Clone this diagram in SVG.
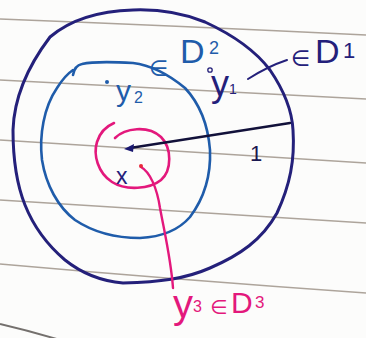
<svg xmlns="http://www.w3.org/2000/svg" width="366" height="338" viewBox="0 0 366 338">
<style>
.rule{fill:none;stroke:#8c7f72;stroke-width:1.5;stroke-opacity:0.7}
.ink{fill:none;stroke-linecap:round;stroke-linejoin:round}
.navy{stroke:#24207a}
.blue{stroke:#1f5caa}
.pink{stroke:#e3187c}
.t{font-family:"Liberation Sans","DejaVu Sans",sans-serif}
.tn{fill:#24207a}
.tb{fill:#1f5caa}
.tp{fill:#e3187c}
</style>
<rect width="366" height="338" fill="#fcfcfb"/>
<g id="paper-lines">
<path class="rule" d="M0,19 Q180,26 366,35"/>
<path class="rule" d="M0,80 Q180,90 366,99"/>
<path class="rule" d="M0,140 Q180,152 366,163"/>
<path class="rule" d="M0,200 Q180,212 366,223"/>
<path class="rule" d="M0,264 Q180,280 366,293"/>
<path class="rule" d="M0,324 Q30,331 60,340" style="stroke:#3a3530;stroke-width:2"/>
</g>
<g id="disc-D1">
<path class="ink navy" stroke-width="3" d="M50,37 C70,20 100,11 133,10 C160,9 185,14 205,22 C233,35 255,50 270,70 C285,92 292,110 293,130 C295,160 290,185 277,213 C262,240 240,255 210,268 C185,279 160,282 123,283 C100,281 80,272 65,260 C45,243 33,225 25,205 C15,180 13,155 13,130 C14,100 25,70 50,37"/>
<path class="ink navy" stroke-width="2.2" d="M50,37 L48,40"/>
</g>
<g id="disc-D2">
<path class="ink blue" stroke-width="2.6" d="M73,75 C74,69 77,65 82,64 C95,61 115,62 133,63 C150,65 168,74 185,88 C200,104 208,125 210,150 C211,175 205,197 190,217 C177,232 160,237 140,238 C115,238 93,232 75,220 C58,207 46,185 42,160 C39,135 44,107 57,88 C62,80 67,74 73,70"/>
</g>
<g id="disc-D3">
<path class="ink pink" stroke-width="2.6" d="M115,138 C125,128 148,125 161,137 C172,148 172,170 161,180 C150,189 126,191 112,182 C98,173 93,155 97,142 C100,132 107,126 114,123"/>
</g>
<g id="connectors">
<path class="ink" stroke="#12113a" stroke-width="2.4" d="M130,148 L290,123"/>
<path fill="#1a1870" d="M124,149 L134,144 L133,152 Z"/>
<path class="ink navy" stroke-width="2" d="M248,79 C262,70 275,64 287,60"/>
<path class="ink pink" stroke-width="2.4" d="M141,167 C150,172 157,188 160,208 C165,235 171,260 173,288"/>
<circle cx="141" cy="166" r="2" fill="#e8283a"/>
</g>
<g id="label-x">
<text class="t tn" x="116" y="184" font-size="23">x</text>
</g>
<g id="label-radius">
<text class="t" fill="#1a1850" x="250" y="161" font-size="22">1</text>
</g>
<g id="label-y2">
<circle cx="107" cy="82" r="2" fill="#1f5caa"/>
<text class="t tb"><tspan x="116" y="101" font-size="30">y</tspan><tspan x="134" y="103" font-size="16">2</tspan></text>
</g>
<g id="label-D2">
<text class="t tb"><tspan x="149" y="76" font-size="22">∈</tspan><tspan x="180" y="63" font-size="34">D</tspan><tspan x="209" y="54" font-size="18">2</tspan></text>
</g>
<g id="label-y1">
<circle cx="210" cy="70" r="2.2" fill="none" stroke="#24207a" stroke-width="1.3"/>
<text class="t tn"><tspan x="211" y="96" font-size="36">y</tspan><tspan x="229" y="94" font-size="14">1</tspan></text>
</g>
<g id="label-D1">
<text class="t tn"><tspan x="291" y="66" font-size="22">∈</tspan><tspan x="315" y="63" font-size="34">D</tspan><tspan x="343" y="58" font-size="22">1</tspan></text>
</g>
<g id="label-y3">
<text class="t tp"><tspan x="173" y="318" font-size="40">y</tspan><tspan x="193" y="312" font-size="16">3</tspan><tspan x="210" y="314" font-size="20">∈</tspan><tspan x="231" y="313" font-size="30">D</tspan><tspan x="255" y="308" font-size="17">3</tspan></text>
</g>
</svg>
